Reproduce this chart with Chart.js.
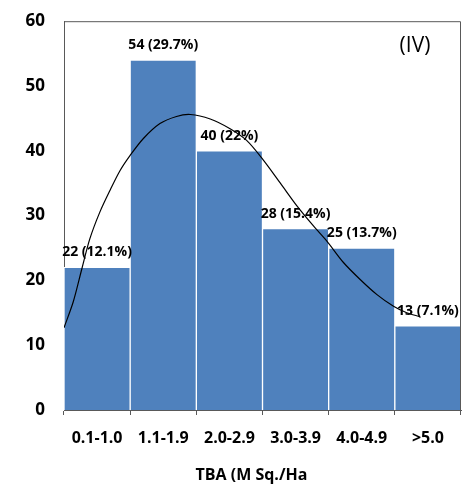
<!DOCTYPE html>
<html>
<head>
<meta charset="utf-8">
<script src="https://cdn.jsdelivr.net/npm/chart.js@4/dist/chart.umd.min.js"></script>
<style>
  html, body { margin: 0; padding: 0; background: #fff; }
  #wrap { width: 471px; height: 486px; position: relative; }
</style>
</head>
<body>
<div id="wrap"><canvas id="c"></canvas></div>
<script>
// TBA classes and counts
const classes = ['0.1-1.0', '1.1-1.9', '2.0-2.9', '3.0-3.9', '4.0-4.9', '>5.0'];
const counts = [22, 54, 40, 28, 25, 13];
const percents = ['12.1%', '29.7%', '22%', '15.4%', '13.7%', '7.1%'];
const yTicks = [0, 10, 20, 30, 40, 50, 60];
const xTitle = 'TBA (M Sq./Ha';

// fitted curve (x in class units, 0 = left edge)
const curveX = [0, 0.14, 0.27, 0.39, 0.54, 0.70, 0.85, 1.00, 1.20, 1.45, 1.70, 1.91, 2.21,
  2.51, 2.76, 3.01, 3.27, 3.52, 3.77, 3.97, 4.22, 4.48, 4.73, 4.98, 5.18, 5.38];
const curveY = [12.7, 16.7, 21.8, 26.4, 30.5, 34, 37, 39.3, 41.9, 44.2, 45.3, 45.6, 44.9,
  43.4, 41.6, 38.6, 35, 31.5, 28.4, 26.1, 22.8, 20.1, 17.8, 16, 15, 14.4];

const FONT = "'Open Sans', 'Liberation Sans', sans-serif";

/* labels above bars + frame + (IV) + axis title */
const extras = {
  id: 'extras',
  afterDatasetsDraw(chart) {
    const { ctx, chartArea: a } = chart;
    ctx.save();
    ctx.strokeStyle = '#595959';
    ctx.lineWidth = 1;
    ctx.beginPath();
    ctx.moveTo(a.left + 0.5, a.top + 0.5);
    ctx.lineTo(a.right - 0.5, a.top + 0.5);
    ctx.lineTo(a.right - 0.5, a.bottom);
    ctx.stroke();

    ctx.fillStyle = '#000';
    ctx.font = `bold 14px ${FONT}`;
    ctx.textAlign = 'center';
    ctx.textBaseline = 'middle';
    const meta = chart.getDatasetMeta(0);
    meta.data.forEach((bar, i) => {
      ctx.fillText(`${counts[i]} (${percents[i]})`, bar.x, bar.y - 15);
    });

    ctx.font = `21px ${FONT}`;
    ctx.fillText('(IV)', a.right - 46, a.top + 25);

    ctx.font = `bold 16px ${FONT}`;
    ctx.fillText(xTitle, (a.left + a.right) / 2 - 11, a.bottom + 65);
    ctx.restore();
  },
};

new Chart(document.getElementById('c').getContext('2d'), {
  data: {
    labels: classes,
    datasets: [
      { type: 'bar', data: counts, backgroundColor: '#4F81BD',
        borderColor: '#ffffff', borderWidth: 1, grouped: false,
        barPercentage: 1, categoryPercentage: 1, order: 2 },
      { type: 'line', data: curveX.map((x, i) => ({ x, y: curveY[i] })),
        xAxisID: 'xc', borderColor: '#000', borderWidth: 1.2, pointRadius: 0,
        tension: 0.3, fill: false, order: 1 },
    ],
  },
  plugins: [extras],
  options: {
    responsive: true, maintainAspectRatio: false, animation: false,
    layout: { padding: { top: 6, right: 10, left: 0, bottom: 0 } },
    plugins: { legend: { display: false }, tooltip: { enabled: false } },
    scales: {
      x: {
        grid: { drawOnChartArea: false, tickLength: 5, color: '#595959' },
        border: { color: '#595959' },
        ticks: { color: '#000', font: { family: FONT, size: 16, weight: 'bold' }, padding: 14 },
        afterFit: s => { s.height = 76; },
      },
      xc: { type: 'linear', display: false, min: 0, max: 6 },
      y: {
        min: 0, max: 60,
        afterBuildTicks: s => { s.ticks = yTicks.map(v => ({ value: v })); },
        grid: { display: false },
        border: { color: '#595959' },
        ticks: { color: '#000', font: { family: FONT, size: 17, weight: 'bold' }, padding: 11 },
        afterFit: s => { s.width = 64; },
      },
    },
  },
});
</script>
</body>
</html>
